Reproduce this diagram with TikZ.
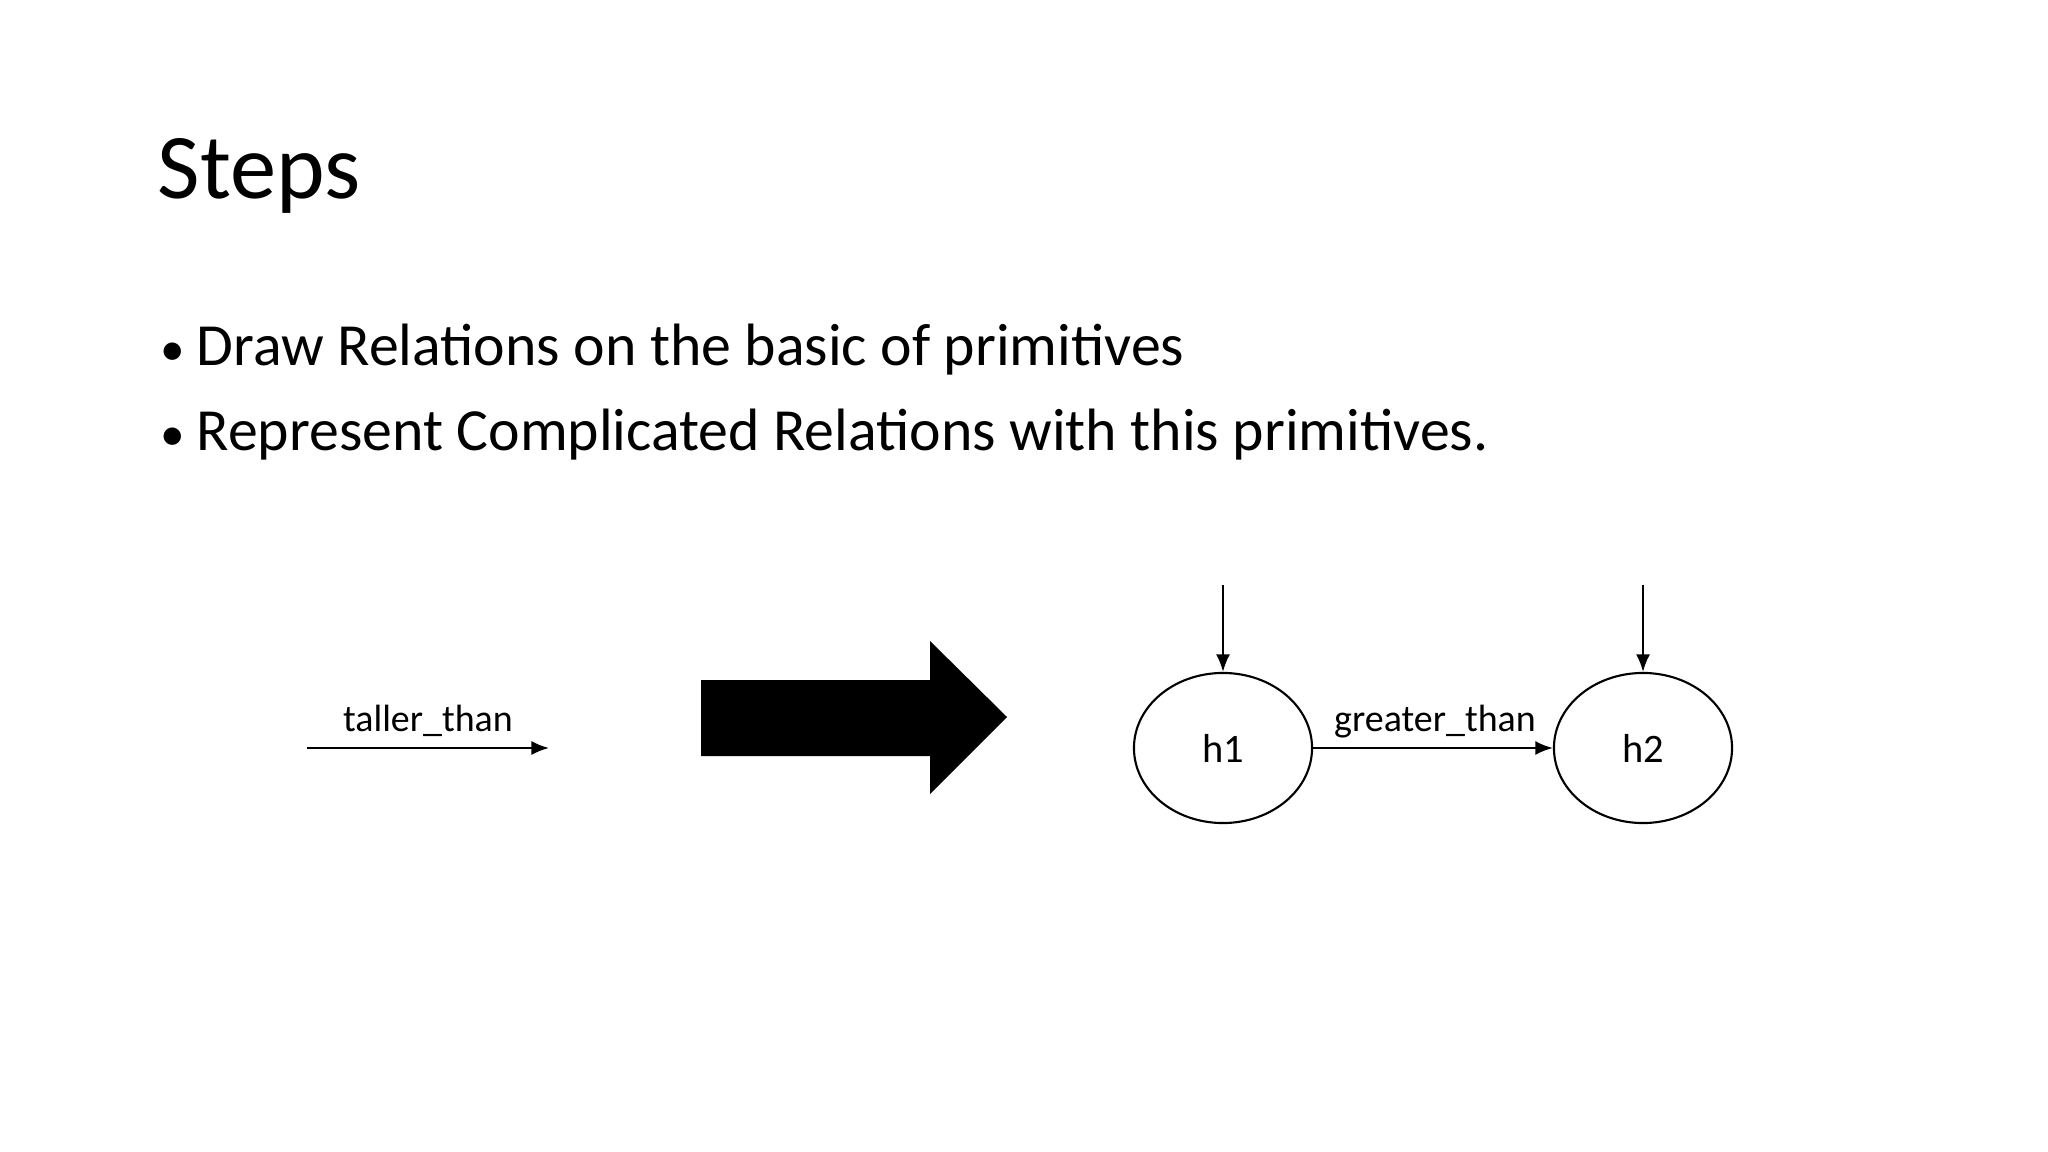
\documentclass[tikz,border=0pt]{standalone}
\usepackage{fontspec}
\setmainfont{Carlito}
\usetikzlibrary{shapes.geometric,arrows.meta}
\begin{document}
\begin{tikzpicture}[x=0.01cm,y=-0.01cm,
  lbl/.style={font=\fontsize{10.8pt}{12pt}\selectfont,anchor=base},
  ell/.style={ellipse,draw,line width=0.6pt,inner sep=0,minimum width=1.78cm,minimum height=1.5cm,font=\fontsize{11.5pt}{13pt}\selectfont},
  conn/.style={line width=0.6pt,-{Latex[length=5pt,width=4pt]}},
  bul/.style={font=\fontsize{17pt}{21pt}\selectfont,anchor=base west,inner sep=0}]
\useasboundingbox (0,0) rectangle (2048,1152);
\node[font=\fontsize{26.3pt}{32pt}\selectfont,anchor=base west,inner sep=0] (title) at (157,199) {Steps};
\node[bul] (d1) at (160,366) {\fontsize{14pt}{16pt}\selectfont\textbullet};
\node[bul] (d2) at (160,451) {\fontsize{14pt}{16pt}\selectfont\textbullet};
\node[bul] (b1) at (196,366) {Draw Relations on the basic of primitives};
\node[bul] (b2) at (196,451) {Represent Complicated Relations with this primitives.};
\coordinate (s1) at (307,748);
\coordinate (e1) at (549,748);
\draw[conn] (s1) -- (e1);
\node[lbl] (t1) at (428,731) {taller\_than};
\fill (701,680) -- (930,680) -- (930,641) -- (1007,717) -- (930,794) -- (930,756) -- (701,756) -- cycle;
\node[ell] (h1) at (1223,748) {h1};
\node[ell] (h2) at (1643,748) {h2};
\draw[conn] (h1) -- (h2);
\node[lbl] (t2) at (1435,731) {greater\_than};
\coordinate (a1) at (1223,585);
\coordinate (a2) at (1643,585);
\draw[conn] (a1) -- (h1.north);
\draw[conn] (a2) -- (h2.north);
\end{tikzpicture}
\end{document}
